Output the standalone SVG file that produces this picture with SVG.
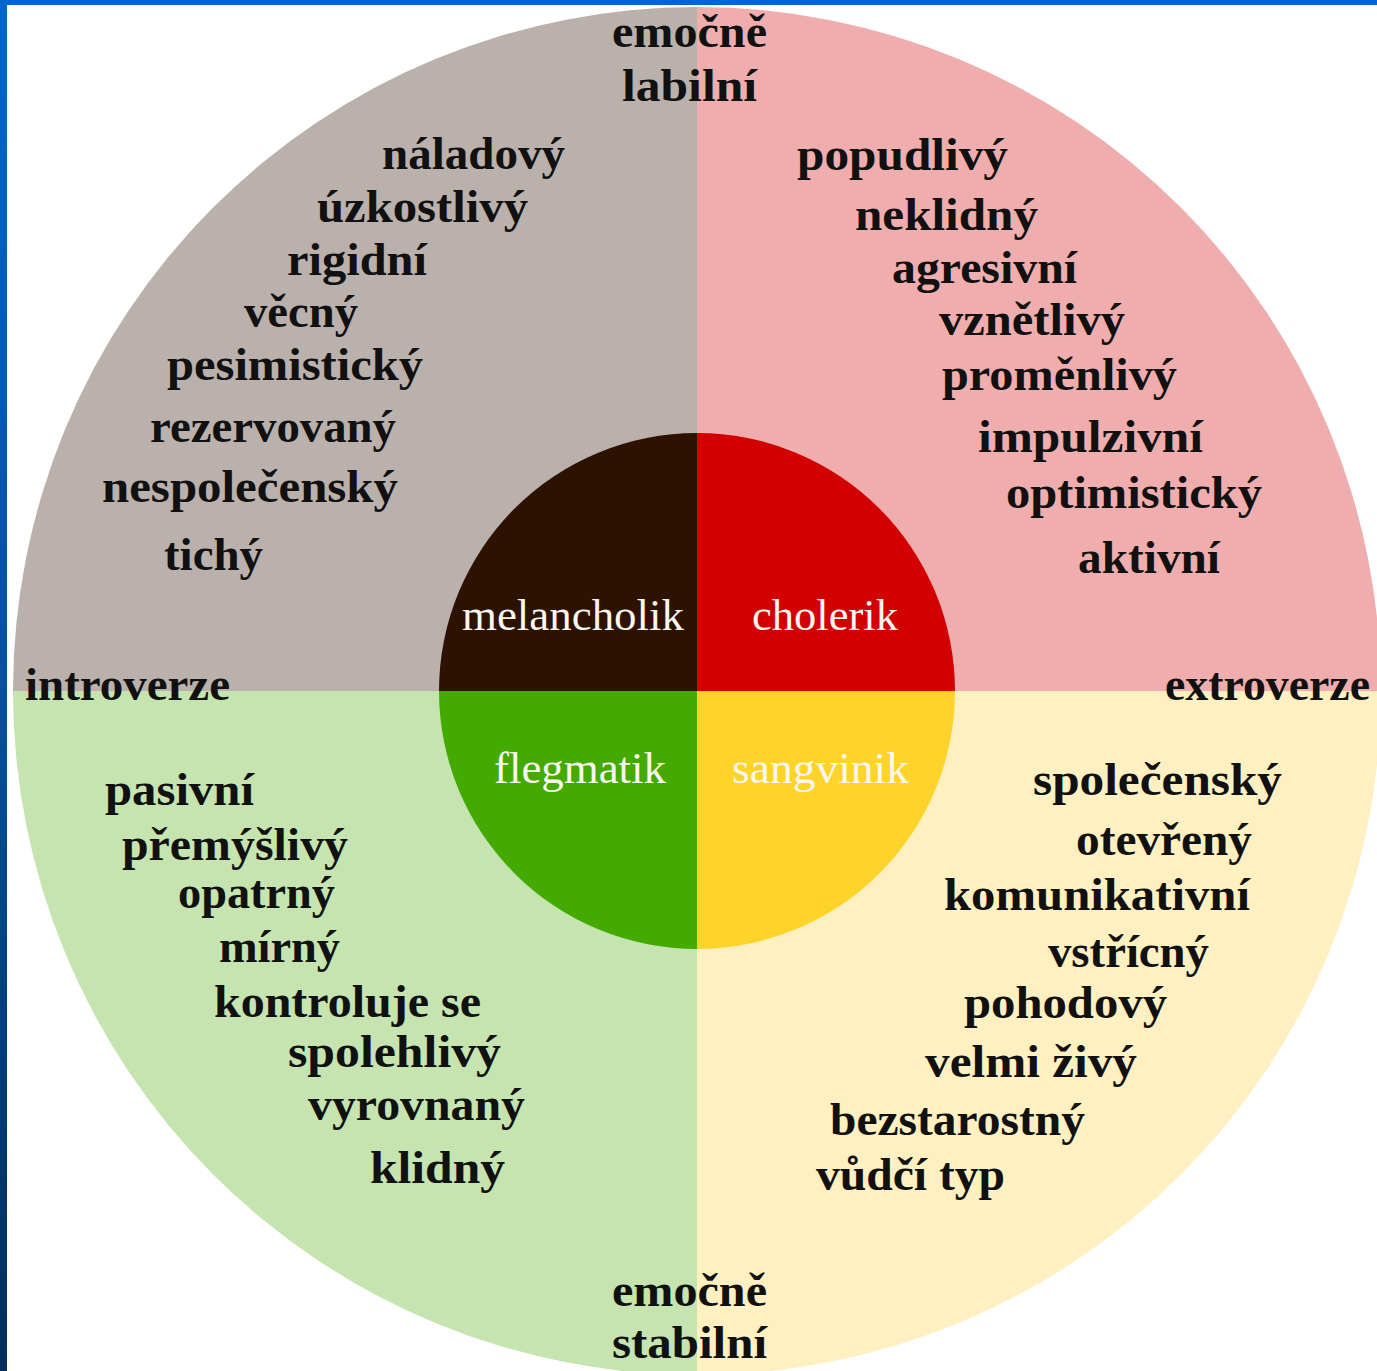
<svg xmlns="http://www.w3.org/2000/svg" width="1377" height="1371" viewBox="0 0 1377 1371">
<defs>
<linearGradient id="side" x1="0" y1="0" x2="0" y2="1">
<stop offset="0" stop-color="#0066CC"/>
<stop offset="0.5" stop-color="#0050A0"/>
<stop offset="1" stop-color="#002D5A"/>
</linearGradient>
<style>
.w{font-family:"Liberation Serif","Times New Roman",serif;font-weight:bold;font-size:46px;fill:#111111}
.c{font-family:"Liberation Serif","Times New Roman",serif;font-size:44px;fill:#FAF6F0}
</style>
</defs>
<rect x="0" y="0" width="1377" height="1371" fill="#FFFFFF"/>
<rect x="0" y="0" width="1377" height="5" fill="#0066CC"/>
<rect x="0" y="0" width="7" height="1371" fill="url(#side)"/>

<g id="melancholik">
<path d="M697,691 L13,691 A684,684 0 0 1 697,7 Z" fill="#BAB1AD"/>
<path d="M697,691 L439,691 A258,258 0 0 1 697,433 Z" fill="#2D1200"/>
<text class="c" x="462" y="630" textLength="222" lengthAdjust="spacingAndGlyphs">melancholik</text>
<text class="w" x="382" y="169" textLength="183" lengthAdjust="spacingAndGlyphs">náladový</text>
<text class="w" x="317" y="222" textLength="211" lengthAdjust="spacingAndGlyphs">úzkostlivý</text>
<text class="w" x="287" y="275" textLength="140" lengthAdjust="spacingAndGlyphs">rigidní</text>
<text class="w" x="244" y="327" textLength="114" lengthAdjust="spacingAndGlyphs">věcný</text>
<text class="w" x="167" y="380" textLength="256" lengthAdjust="spacingAndGlyphs">pesimistický</text>
<text class="w" x="150" y="442" textLength="246" lengthAdjust="spacingAndGlyphs">rezervovaný</text>
<text class="w" x="102" y="502" textLength="296" lengthAdjust="spacingAndGlyphs">nespolečenský</text>
<text class="w" x="164" y="570" textLength="99" lengthAdjust="spacingAndGlyphs">tichý</text>
</g>

<g id="cholerik">
<path d="M697,691 L697,7 A684,684 0 0 1 1381,691 Z" fill="#F0ADAE"/>
<path d="M697,691 L697,433 A258,258 0 0 1 955,691 Z" fill="#D20000"/>
<text class="c" x="752" y="630" textLength="146" lengthAdjust="spacingAndGlyphs">cholerik</text>
<text class="w" x="797" y="170" textLength="211" lengthAdjust="spacingAndGlyphs">popudlivý</text>
<text class="w" x="855" y="230" textLength="183" lengthAdjust="spacingAndGlyphs">neklidný</text>
<text class="w" x="892" y="283" textLength="185" lengthAdjust="spacingAndGlyphs">agresivní</text>
<text class="w" x="939" y="335" textLength="186" lengthAdjust="spacingAndGlyphs">vznětlivý</text>
<text class="w" x="942" y="390" textLength="235" lengthAdjust="spacingAndGlyphs">proměnlivý</text>
<text class="w" x="978" y="452" textLength="225" lengthAdjust="spacingAndGlyphs">impulzivní</text>
<text class="w" x="1006" y="508" textLength="256" lengthAdjust="spacingAndGlyphs">optimistický</text>
<text class="w" x="1078" y="573" textLength="142" lengthAdjust="spacingAndGlyphs">aktivní</text>
</g>

<g id="flegmatik">
<path d="M697,691 L697,1375 A684,684 0 0 1 13,691 Z" fill="#C5E4B0"/>
<path d="M697,691 L697,949 A258,258 0 0 1 439,691 Z" fill="#44AA00"/>
<text class="c" x="494" y="783" textLength="172" lengthAdjust="spacingAndGlyphs">flegmatik</text>
<text class="w" x="105" y="805" textLength="149" lengthAdjust="spacingAndGlyphs">pasivní</text>
<text class="w" x="122" y="860" textLength="226" lengthAdjust="spacingAndGlyphs">přemýšlivý</text>
<text class="w" x="178" y="908" textLength="157" lengthAdjust="spacingAndGlyphs">opatrný</text>
<text class="w" x="219" y="962" textLength="121" lengthAdjust="spacingAndGlyphs">mírný</text>
<text class="w" x="214" y="1017" textLength="267" lengthAdjust="spacingAndGlyphs">kontroluje se</text>
<text class="w" x="288" y="1067" textLength="213" lengthAdjust="spacingAndGlyphs">spolehlivý</text>
<text class="w" x="308" y="1120" textLength="217" lengthAdjust="spacingAndGlyphs">vyrovnaný</text>
<text class="w" x="370" y="1183" textLength="135" lengthAdjust="spacingAndGlyphs">klidný</text>
</g>

<g id="sangvinik">
<path d="M697,691 L1381,691 A684,684 0 0 1 697,1375 Z" fill="#FEF0C0"/>
<path d="M697,691 L955,691 A258,258 0 0 1 697,949 Z" fill="#FFD42A"/>
<text class="c" x="732" y="783" textLength="177" lengthAdjust="spacingAndGlyphs">sangvinik</text>
<text class="w" x="1033" y="795" textLength="249" lengthAdjust="spacingAndGlyphs">společenský</text>
<text class="w" x="1076" y="855" textLength="176" lengthAdjust="spacingAndGlyphs">otevřený</text>
<text class="w" x="944" y="910" textLength="306" lengthAdjust="spacingAndGlyphs">komunikativní</text>
<text class="w" x="1048" y="967" textLength="161" lengthAdjust="spacingAndGlyphs">vstřícný</text>
<text class="w" x="964" y="1018" textLength="203" lengthAdjust="spacingAndGlyphs">pohodový</text>
<text class="w" x="925" y="1077" textLength="212" lengthAdjust="spacingAndGlyphs">velmi živý</text>
<text class="w" x="830" y="1135" textLength="255" lengthAdjust="spacingAndGlyphs">bezstarostný</text>
<text class="w" x="816" y="1190" textLength="189" lengthAdjust="spacingAndGlyphs">vůdčí typ</text>
</g>

<g id="axes">
<text class="w" x="612" y="47" textLength="155" lengthAdjust="spacingAndGlyphs">emočně</text>
<text class="w" x="622" y="101" textLength="135" lengthAdjust="spacingAndGlyphs">labilní</text>
<text class="w" x="25" y="700" textLength="205" lengthAdjust="spacingAndGlyphs">introverze</text>
<text class="w" x="1165" y="700" textLength="205" lengthAdjust="spacingAndGlyphs">extroverze</text>
<text class="w" x="612" y="1306" textLength="155" lengthAdjust="spacingAndGlyphs">emočně</text>
<text class="w" x="612" y="1358" textLength="155" lengthAdjust="spacingAndGlyphs">stabilní</text>
</g>

<g id="connectors"/>
</svg>
